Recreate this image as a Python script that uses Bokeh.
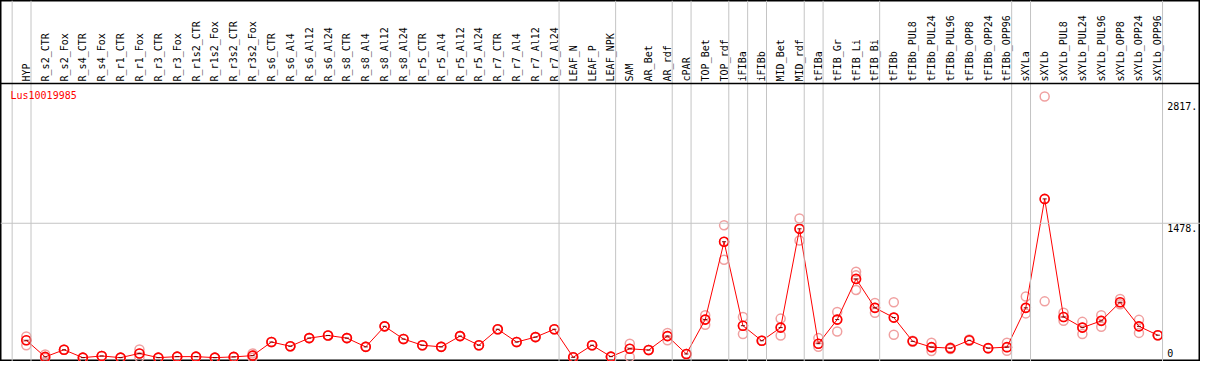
import math
from bokeh.plotting import figure
from bokeh.models import Range1d, Span, Label
from bokeh.embed import file_html
from bokeh.resources import INLINE
from bokeh.core.properties import value

title = "Lus10019985"

categories = [
    "HYP", "R_s2_CTR", "R_s2_Fox", "R_s4_CTR", "R_s4_Fox", "R_r1_CTR", "R_r1_Fox",
    "R_r3_CTR", "R_r3_Fox", "R_r1s2_CTR", "R_r1s2_Fox", "R_r3s2_CTR", "R_r3s2_Fox",
    "R_s6_CTR", "R_s6_Al4", "R_s6_Al12", "R_s6_Al24", "R_s8_CTR", "R_s8_Al4",
    "R_s8_Al12", "R_s8_Al24", "R_r5_CTR", "R_r5_Al4", "R_r5_Al12", "R_r5_Al24",
    "R_r7_CTR", "R_r7_Al4", "R_r7_Al12", "R_r7_Al24", "LEAF_N", "LEAF_P", "LEAF_NPK",
    "SAM", "AR_Bet", "AR_rdf", "cPAR", "TOP_Bet", "TOP_rdf", "iFIBa", "iFIBb",
    "MID_Bet", "MID_rdf", "tFIBa", "tFIB_Gr", "tFIB_Li", "tFIB_Bi", "tFIBb",
    "tFIBb_PUL8", "tFIBb_PUL24", "tFIBb_PUL96", "tFIBb_OPP8", "tFIBb_OPP24",
    "tFIBb_OPP96", "sXYLa", "sXYLb", "sXYLb_PUL8", "sXYLb_PUL24", "sXYLb_PUL96",
    "sXYLb_OPP8", "sXYLb_OPP24", "sXYLb_OPP96",
]

means = [
    195, 13, 91, 5, 23, 5, 51, 5, 16, 16, 5, 13, 27,
    176, 130, 219, 248, 219, 123, 348, 209, 141, 123, 241, 141,
    316, 176, 230, 316, 9, 141, 16,
    102, 88, 241, 45, 422, 1275, 355, 190, 334, 1417,
    158, 422, 868, 551, 444, 184, 120, 109, 195, 109, 120,
    551, 1745, 451, 334, 408, 612, 348, 251,
]

rep_hi = [
    237, 40, 91, 5, 23, 5, 94, 5, 16, 16, 5, 13, 51,
    176, 130, 219, 248, 219, 123, 348, 209, 141, 123, 241, 141,
    316, 176, 230, 316, 9, 141, 16,
    158, 88, 276, 45, 469, 1457, 451, 190, 433, 1531,
    219, 505, 947, 604, 612, 190, 169, 115, 205, 109, 169,
    676, 2868, 497, 397, 469, 647, 419, 251,
]

rep_lo = [
    141, 0, 91, 5, 23, 5, 9, 5, 16, 16, 5, 13, 5,
    176, 130, 219, 248, 219, 123, 348, 209, 141, 123, 241, 141,
    316, 176, 230, 316, 9, 141, 16,
    13, 88, 195, 45, 366, 1078, 265, 190, 248, 1289,
    123, 291, 747, 497, 255, 178, 77, 100, 190, 109, 81,
    490, 622, 408, 265, 344, 590, 276, 251,
]

rep_mid = [
    195, 13, 91, 5, 23, 5, 51, 5, 16, 16, 5, 13, 27,
    176, 130, 219, 248, 219, 123, 348, 209, 141, 123, 241, 141,
    316, 176, 230, 316, 9, 141, 16,
    102, 88, 241, 45, 422, 1275, 355, 190, 334, 1417,
    158, 422, 907, 551, 444, 184, 120, 109, 195, 109, 120,
    551, 1745, 451, 334, 408, 612, 348, 251,
]

# index of the last category of each group (vertical separators after them)
group_ends = [-1, 0, 28, 31, 34, 35, 37, 38, 39, 41, 42, 45, 52, 53, 60]

y_ticks = [0, 1478, 2817]
y_tick_labels = ["0", "1478.", "2817."]

W, H = 1200, 361
FONT = "DejaVu Sans Mono"

n = len(categories)
idx = list(range(n))

p = figure(width=W, height=H, output_backend="svg", toolbar_location=None,
           x_range=Range1d(-1.368, 62.263), y_range=Range1d(-37.4, 3920),
           x_axis_location=None, y_axis_location=None,
           min_border=0, min_border_left=0, min_border_right=0,
           min_border_top=0, min_border_bottom=0)
p.grid.visible = False
p.outline_line_color = "black"
p.outline_line_width = 2
p.background_fill_color = "white"
p.border_fill_color = "white"

# grid lines
for g in group_ends:
    p.add_layout(Span(location=g + 0.25, dimension="height",
                      line_color="#c4c4c4", line_width=1))
p.add_layout(Span(location=y_ticks[1], dimension="width",
                  line_color="#c4c4c4", line_width=1))
# header separator
header_v = 3011
p.add_layout(Span(location=header_v, dimension="width",
                  line_color="black", line_width=1.5))

# category labels (vertical)
p.text(x=idx, y=[header_v] * n, text=categories, angle=math.pi / 2,
       text_align="left", text_baseline="middle", y_offset=-2,
       text_font=value(FONT), text_font_size="10px", text_color="black")

# y tick labels on the right
xl = n - 1 + 0.5
p.text(x=[xl, xl], y=y_ticks[1:], text=y_tick_labels[1:],
       text_align="left", text_baseline="top", y_offset=1,
       text_font=value(FONT), text_font_size="10px", text_color="black")
p.text(x=[xl], y=y_ticks[:1], text=y_tick_labels[:1],
       text_align="left", text_baseline="bottom", y_offset=-1,
       text_font=value(FONT), text_font_size="10px", text_color="black")

# title
p.add_layout(Label(x=10, y=H - 95, x_units="screen", y_units="screen",
                   text=title, text_color="red", text_font=FONT,
                   text_font_size="10px", text_baseline="middle"))

# replicates
for reps in (rep_lo, rep_mid, rep_hi):
    p.scatter(x=idx, y=reps, marker="circle", size=9, fill_color=None,
              line_color="#f0a0a0", line_width=1.5)

# mean line + markers
p.line(x=idx, y=means, line_color="red", line_width=1)
p.scatter(x=idx, y=means, marker="circle", size=9, fill_color=None,
          line_color="red", line_width=1.6)
p.scatter(x=idx, y=means, marker="dash", size=4, line_color="#700000",
          line_width=1)

open("out.html", "w").write(file_html(p, INLINE))
